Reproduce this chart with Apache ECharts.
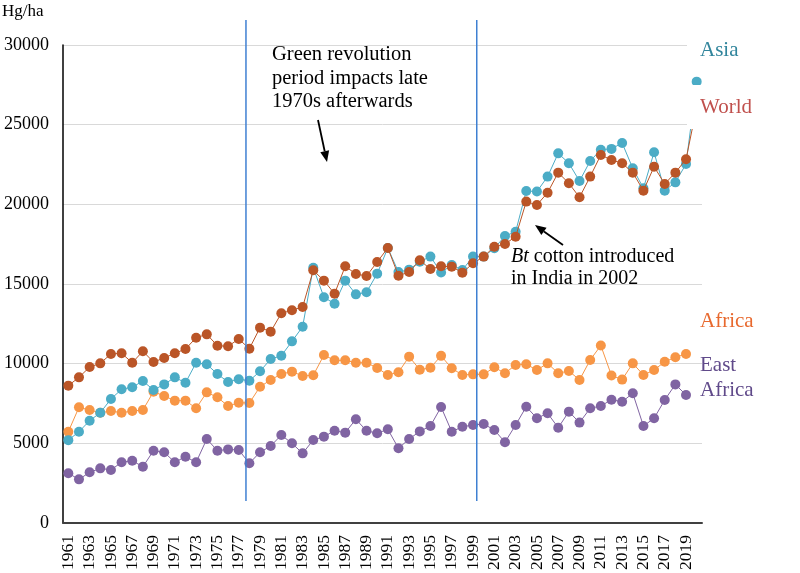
<!DOCTYPE html>
<html><head><meta charset="utf-8">
<script src="https://cdn.jsdelivr.net/npm/echarts@6/dist/echarts.min.js"></script>
<style>html,body{margin:0;padding:0;background:#fff}#c{width:800px;height:573px}</style>
</head><body><div id="c"></div>
<script>
const years = ['1961','1962','1963','1964','1965','1966','1967','1968','1969','1970',
  '1971','1972','1973','1974','1975','1976','1977','1978','1979','1980',
  '1981','1982','1983','1984','1985','1986','1987','1988','1989','1990',
  '1991','1992','1993','1994','1995','1996','1997','1998','1999','2000',
  '2001','2002','2003','2004','2005','2006','2007','2008','2009','2010',
  '2011','2012','2013','2014','2015','2016','2017','2018','2019','2020'];

const asia = [5200,5730,6420,6920,7780,8390,8520,8910,8350,8700,
  9140,8800,10060,9960,9350,8850,9020,8930,9520,10290,
  10500,11400,12320,16020,14170,13760,15210,14350,14480,15650,
  17260,15750,15900,16400,16720,15720,16190,15880,16720,16720,
  17240,18010,18280,20840,20800,21740,23200,22580,21460,22720,
  23430,23480,23850,22260,21010,23270,20860,21380,22530,27700];

const world = [8620,9140,9790,10020,10610,10650,10060,10780,10100,10360,
  10650,10920,11630,11840,11130,11090,11550,10940,12260,12010,
  13160,13350,13560,15860,15210,14390,16110,15630,15500,16380,
  17260,15520,15750,16490,15940,16110,16090,15710,16300,16720,
  17340,17510,17970,20170,19960,20730,21990,21320,20440,21740,
  23100,22780,22580,21990,20860,22360,21280,21990,22830,26100];

const africa = [5730,7260,7090,6920,7030,6920,7030,7090,8240,7970,
  7680,7680,7200,8200,7890,7340,7550,7530,8550,8980,
  9350,9500,9230,9270,10540,10210,10210,10060,10060,9730,
  9290,9460,10440,9620,9740,10490,9710,9290,9330,9330,
  9770,9400,9920,9960,9600,10020,9400,9540,8980,10230,
  11140,9260,9000,10020,9290,9600,10120,10400,10610,null];

const eastAfrica = [3120,2740,3180,3430,3330,3810,3910,3530,4540,4440,
  3810,4160,3810,5270,4540,4620,4580,3750,4440,4830,
  5520,5000,4370,5210,5420,5790,5670,6510,5790,5630,
  5880,4690,5270,5750,6090,7280,5730,6040,6150,6210,
  5840,5070,6150,7300,6570,6890,5980,6990,6300,7200,
  7340,7740,7610,8140,6090,6570,7720,8700,8030,null];

const yMin = 0, yMax = 30000, yStep = 5000;
const unitLabel = 'Hg/ha';
// annotation positions (fractional category positions between years)
const periodMarks = [['1977', 0.68], ['1999', 0.35]];

const SERIF = "'Liberation Serif','Times New Roman',serif";
const chart = echarts.init(document.getElementById('c'), null, {renderer: 'canvas'});

function mk(name, data, color, z) {
  return {
    name, type: 'line', data, symbol: 'circle', symbolSize: 10, z,
    showAllSymbol: true,
    itemStyle: {color: color, borderWidth: 0},
    lineStyle: {color: color, width: 1},
    emphasis: {disabled: true}, animation: false
  };
}

chart.setOption({
  animation: false,
  grid: {left: 63, right: 98, top: 45, bottom: 50, containLabel: false},
  xAxis: {
    type: 'category', data: years, boundaryGap: true,
    axisLine: {show: true, lineStyle: {color: '#404040', width: 2}},
    axisTick: {show: false},
    axisLabel: {interval: 1, rotate: 90, margin: 12, color: '#000', fontFamily: SERIF, fontSize: 17.5},
    splitLine: {show: false}
  },
  yAxis: {
    type: 'value', min: yMin, max: yMax, interval: yStep,
    axisLine: {show: true, lineStyle: {color: '#000', width: 1.5}},
    axisTick: {show: false},
    axisLabel: {margin: 14, color: '#000', fontFamily: SERIF, fontSize: 18, formatter: v => String(v)},
    splitLine: {show: true, lineStyle: {color: '#D9D9D9', width: 1}}
  },
  series: [
    mk('East Africa', eastAfrica, '#8064A2', 3),
    mk('Africa', africa, '#F79646', 4),
    mk('Asia', asia, '#4BACC6', 5),
    mk('World', world, '#BA5527', 6)
  ]
});

function px(cat) { return chart.convertToPixel({xAxisIndex: 0}, cat); }
function arrow(x1, y1, x2, y2) {
  const ang = Math.atan2(y2 - y1, x2 - x1), L = 11, W = 4.5;
  const bx = x2 - L * Math.cos(ang), by = y2 - L * Math.sin(ang);
  const nx = -Math.sin(ang), ny = Math.cos(ang);
  return [
    {type: 'line', z: 50, shape: {x1, y1, x2: bx, y2: by}, style: {stroke: '#000', lineWidth: 1.8}},
    {type: 'polygon', z: 50, shape: {points: [[x2, y2], [bx + nx * W, by + ny * W], [bx - nx * W, by - ny * W]]}, style: {fill: '#000'}}
  ];
}

const yTop = 20, yBot = chart.convertToPixel({yAxisIndex: 0}, 1500);
const graphics = [];
periodMarks.forEach(([y, f]) => {
  const i = years.indexOf(y);
  const x = px(years[i]) + f * (px(years[i + 1]) - px(years[i]));
  graphics.push({type: 'line', z: 40, shape: {x1: x, y1: yTop, x2: x, y2: yBot + 2}, style: {stroke: '#3F80D2', lineWidth: 1.5}});
});

graphics.push({type: 'text', z: 60, x: 2, y: 3, style: {text: unitLabel, font: '17px ' + SERIF, fill: '#000'}});
graphics.push({type: 'text', z: 60, x: 272, y: 43, style: {
  text: 'Green revolution\nperiod impacts late\n1970s afterwards', font: '20.5px ' + SERIF,
  fill: '#000', lineHeight: 23.5, verticalAlign: 'top'}});
graphics.push(...arrow(318, 120, 327, 162));
graphics.push({type: 'text', z: 60, x: 511, y: 245, style: {
  text: '{i|Bt} cotton introduced\nin India in 2002', font: '20px ' + SERIF, fill: '#000', lineHeight: 22.5,
  verticalAlign: 'top', rich: {i: {fontStyle: 'italic', fontFamily: SERIF, fontSize: 20, fill: '#000'}}}});
graphics.push(...arrow(563, 245, 535, 225));

function lab(txt, x, y, color, pad, lh) {
  return {type: 'text', z: 70, x: x, y: y, style: {
    text: txt, font: '21px ' + SERIF, fill: color, verticalAlign: 'middle',
    backgroundColor: pad ? '#fff' : null, padding: pad || 0, lineHeight: lh || 24}};
}
graphics.push(lab('Asia', 687, 50, '#31859C', [6, 10, 6, 13]));
graphics.push(lab('World', 687, 107, '#C0504D', [8, 10, 12, 13]));
graphics.push(lab('Africa', 700, 321, '#E8692E'));
graphics.push(lab('East\nAfrica', 700, 378, '#604A8A', null, 25));

chart.setOption({graphic: {elements: graphics}});
</script></body></html>
